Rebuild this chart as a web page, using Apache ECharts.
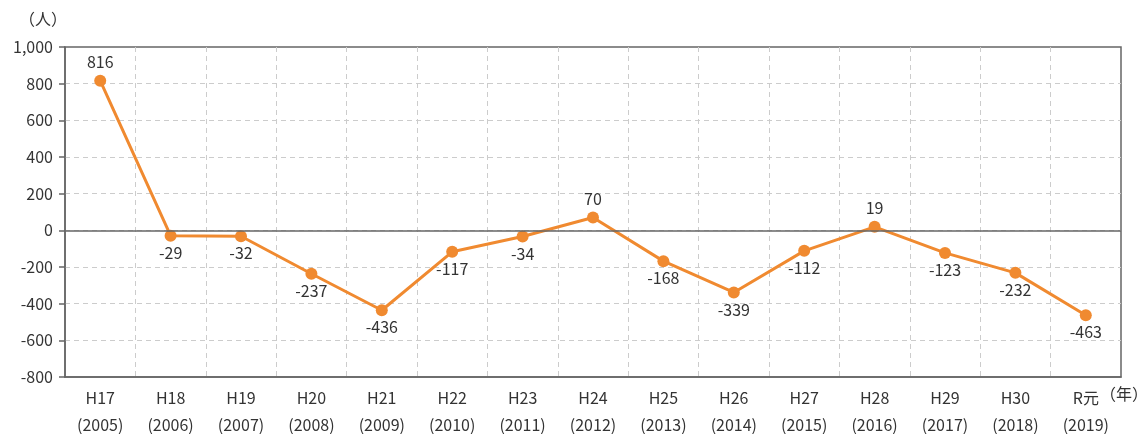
<!DOCTYPE html>
<html>
<head>
<meta charset="utf-8">
<script src="https://cdn.jsdelivr.net/npm/echarts@6/dist/echarts.min.js"></script>
<style>
  html, body { margin: 0; padding: 0; background: #fff; }
  #chart { width: 1145px; height: 434px; }
</style>
</head>
<body>
<div id="chart"></div>
<script>
const eras = ['H17', 'H18', 'H19', 'H20', 'H21', 'H22', 'H23', 'H24', 'H25', 'H26', 'H27', 'H28', 'H29', 'H30', 'R元']
const years = ['2005', '2006', '2007', '2008', '2009', '2010', '2011', '2012', '2013', '2014', '2015', '2016', '2017', '2018', '2019']
const values = [816, -29, -32, -237, -436, -117, -34, 70, -168, -339, -112, 19, -123, -232, -463]

const font = '"Noto Sans CJK JP", "Noto Sans", sans-serif'
const categories = eras.map((e, i) => e + '\n(' + years[i] + ')')

const chart = echarts.init(document.getElementById('chart'))
chart.setOption({
  animation: false,
  textStyle: {fontFamily: font},
  grid: {
    left: 65,
    right: 24,
    top: 47,
    bottom: 57,
    outerBoundsMode: 'none',
    containLabel: false,
    show: true,
    borderColor: '#666',
    borderWidth: 1.5
  },
  xAxis: {
    type: 'category',
    data: categories,
    boundaryGap: true,
    name: '（年）',
    nameLocation: 'end',
    nameGap: -21,
    nameMoveOverlap: false,
    nameTextStyle: {color: '#333', fontSize: 16, verticalAlign: 'top', padding: [9, 0, 0, 0], fontFamily: font},
    axisLine: {onZero: false, lineStyle: {color: '#666', width: 1.5}},
    axisTick: {show: false},
    axisLabel: {color: '#333', fontSize: 16, lineHeight: 27, margin: 7, fontFamily: font},
    splitLine: {show: true, interval: 0, showMinLine: false, showMaxLine: false, lineStyle: {color: '#ccc', type: [5, 4]}}
  },
  yAxis: {
    type: 'value',
    min: -800,
    max: 1000,
    interval: 200,
    name: '（人）',
    nameLocation: 'end',
    nameGap: 20,
    nameTextStyle: {color: '#333', fontSize: 16, align: 'right', padding: [0, -2, 0, 0], fontFamily: font},
    axisLine: {show: true, lineStyle: {color: '#666', width: 1.5}},
    axisTick: {show: true, length: 6, lineStyle: {color: '#666', width: 1.5}},
    axisLabel: {
      color: '#333',
      fontSize: 16,
      margin: 12,
      fontFamily: font,
      formatter: v => v.toLocaleString('en-US')
    },
    splitLine: {showMinLine: false, showMaxLine: false, lineStyle: {color: '#ccc', type: [5, 4]}}
  },
  series: [{
    type: 'line',
    data: values.map(v => ({
      value: v,
      label: {position: v >= 0 ? 'top' : 'bottom', distance: v >= 0 ? 5 : 3}
    })),
    color: '#f08a30',
    lineStyle: {width: 3, color: '#f08a30'},
    symbol: 'circle',
    symbolSize: 12,
    itemStyle: {color: '#f08a30'},
    label: {
      show: true,
      color: '#333',
      fontSize: 16,
      fontFamily: font
    },
    markLine: {
      silent: true,
      symbol: 'none',
      label: {show: false},
      lineStyle: {color: '#666', width: 1.5, type: 'solid'},
      data: [{yAxis: 0}]
    },
    z: 3
  }]
})
</script>
</body>
</html>
